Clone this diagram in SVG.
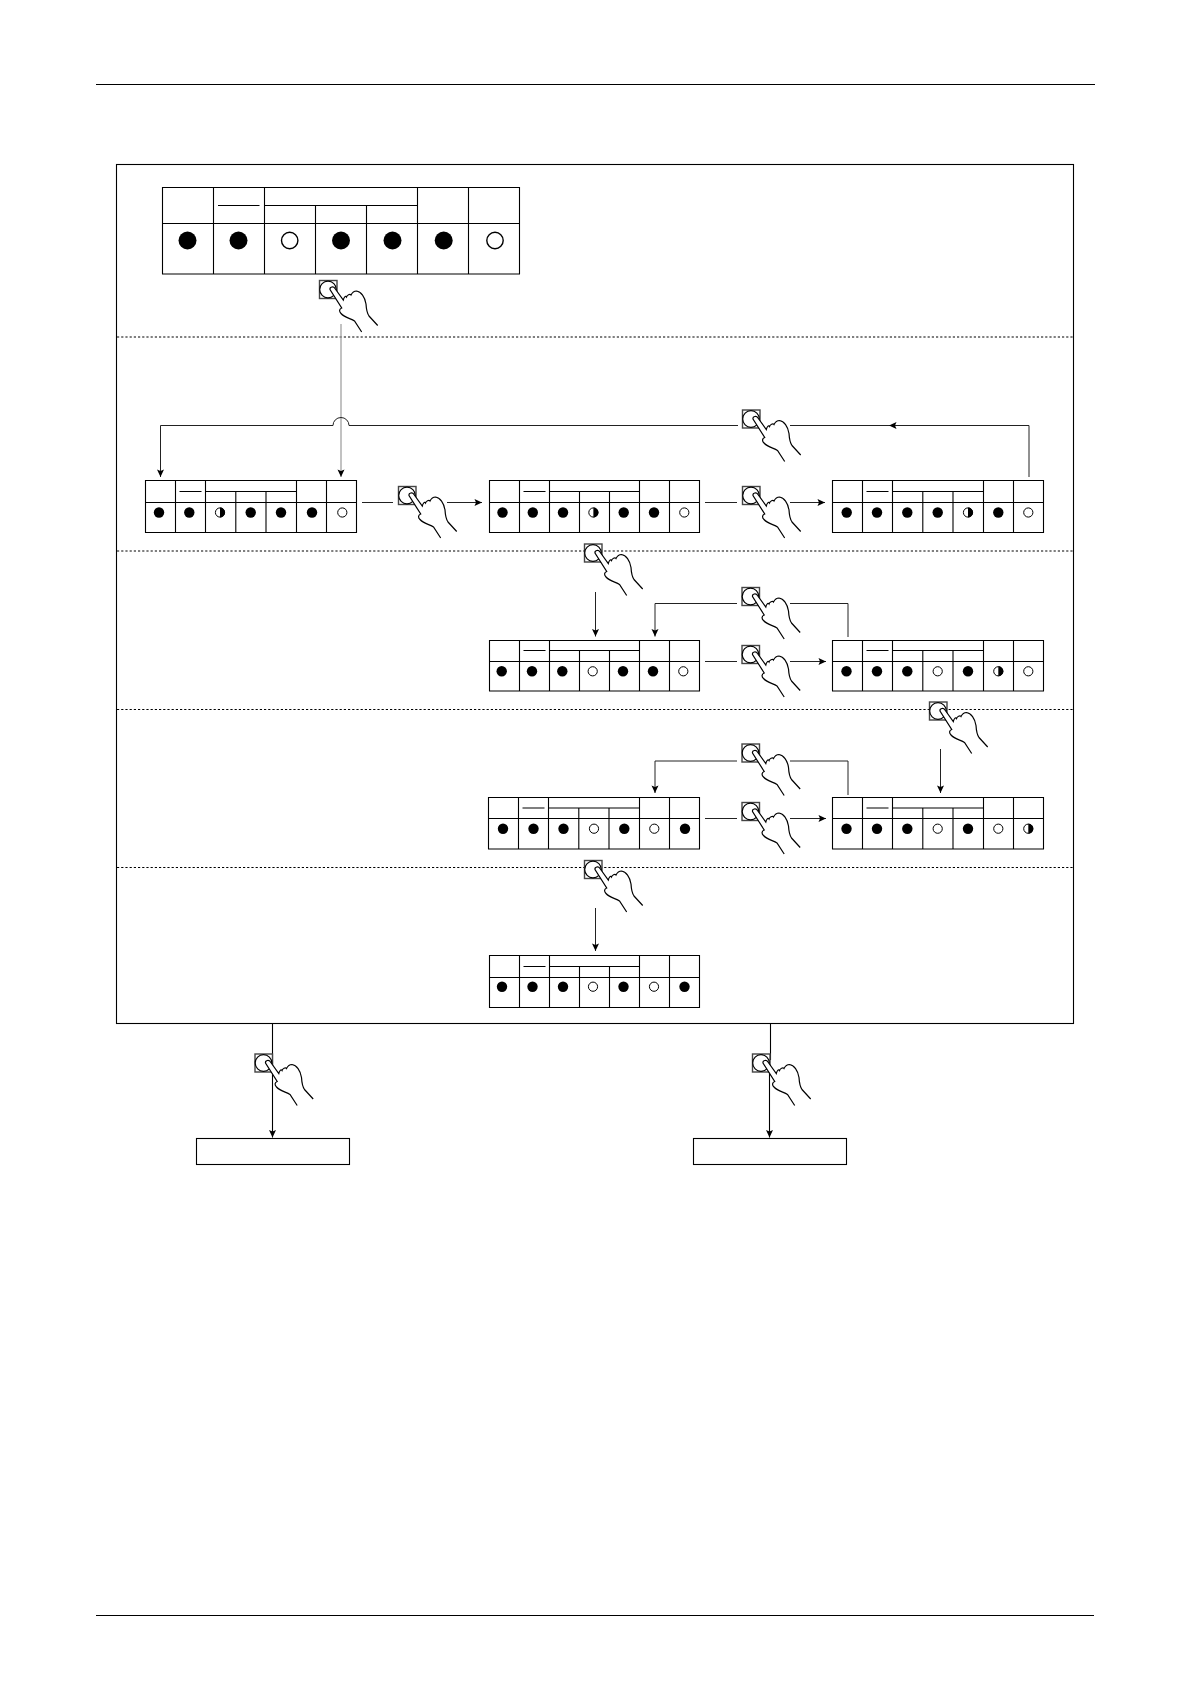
<svg xmlns="http://www.w3.org/2000/svg" width="1190" height="1684" viewBox="0 0 1190 1684">
<style>
.l{fill:none;stroke:#000;stroke-width:1.1}
.t{fill:#fff;stroke:#000;stroke-width:1.1}
.c{fill:none;stroke:#222;stroke-width:1}
.g{fill:none;stroke:#999;stroke-width:1.2}
.d{fill:none;stroke:#000;stroke-width:1;stroke-dasharray:2.2 2}
.on{fill:#000}
.off{fill:#fff;stroke:#000;stroke-width:1}
.offbig{fill:#fff;stroke:#000;stroke-width:1.4}
</style>
<defs>
<marker id="ah" markerUnits="userSpaceOnUse" markerWidth="10" markerHeight="10" refX="8" refY="4" orient="auto">
<path d="M0.5 0.5L8 4L0.5 7.5L2 4Z" fill="#000"/>
</marker>
<symbol id="hand" overflow="visible" width="60" height="54">
<rect x="0.5" y="0.5" width="17.500" height="18" fill="#fff" stroke="#444" stroke-width="1.4"/>
<circle cx="9" cy="9.500" r="8.300" fill="#fff" stroke="#000" stroke-width="1.2"/>
<path d="M58.700 45.500L50 36C47.500 32.500 47.300 29 47 24C46 17 42 11.500 37.500 11C35 11 33 13 32 15C31 13.500 28 15 27.500 17C26.500 15.500 25 17 24.300 20L16 8.500C14.500 5.800 10.500 6.800 11 9.500L22.700 28C20 29 20 31.500 22 33.500C26 38 32 38.500 35.500 41L42.700 52" fill="#fff" stroke="#000" stroke-width="1.2"/>
</symbol>
<symbol id="half" overflow="visible" width="10" height="10">
<circle cx="0" cy="0" r="4.600" fill="#fff" stroke="#000" stroke-width="1"/>
<path d="M0 -5A5 5 0 0 1 0 5Z" fill="#000"/>
</symbol>
<path id="grid52" class="t" d="M0 0H211V52H0ZM0 22H211M30 0V52M60 0V52M90.300 11V52M120.500 11V52M151 0V52M181 0V52M34 11H56M60 11H151"/>
<path id="grid52m" class="t" d="M0 0H210V52H0ZM0 22H210M30 0V52M60 0V52M90 11V52M120 11V52M150 0V52M180 0V52M34 11H56M60 11H150"/>
<path id="grid50m" class="t" d="M0 0H210V50.500H0ZM0 21H210M30 0V50.500M60 0V50.500M90 10V50.500M120 10V50.500M150 0V50.500M180 0V50.500M34 10H56M60 10H150"/>
<path id="grid50" class="t" d="M0 0H211V50.500H0ZM0 21H211M30 0V50.500M60 0V50.500M90.300 10V50.500M120.500 10V50.500M151 0V50.500M181 0V50.500M34 10H56M60 10H151"/>
<path id="grid51" class="t" d="M0 0H211V51.500H0ZM0 21H211M30 0V51.500M60 0V51.500M90.300 10.500V51.500M120.500 10.500V51.500M151 0V51.500M181 0V51.500M34 10.500H56M60 10.500H151"/>
<circle id="b" class="on" r="5.200"/>
<circle id="w" class="off" r="4.600"/>
</defs>

<path class="l" d="M96 84.500H1095M96 1615.500H1094"/>
<rect class="l" x="116.500" y="164.500" width="957" height="859"/>
<g id="dividers">
<path class="d" d="M117 337H1073M117 551H1073M117 709.500H1073M117 867.500H1073"/>
</g>

<g id="connectors">
<path class="g" d="M341 324V477" marker-end="url(#ah)"/>
<path class="c" d="M738 425.500H349A8 8 0 0 0 333 425.500H160.500V477" marker-end="url(#ah)"/>
<path class="c" d="M1029 477V425.500H790"/>
<path class="c" d="M900 425.500H889" marker-end="url(#ah)"/>
<path class="c" d="M362 502.500H393"/>
<path class="c" d="M447 502.500H482" marker-end="url(#ah)"/>
<path class="c" d="M705 502.500H737"/>
<path class="c" d="M790 502.500H825" marker-end="url(#ah)"/>
<path class="c" d="M595.500 592V636.500" marker-end="url(#ah)"/>
<path class="c" d="M737 603.500H655V636.500" marker-end="url(#ah)"/>
<path class="c" d="M790 603.500H848V637"/>
<path class="c" d="M705 661.500H737"/>
<path class="c" d="M790 661.500H826" marker-end="url(#ah)"/>
<path class="c" d="M940.500 749V793" marker-end="url(#ah)"/>
<path class="c" d="M737 761H655V793" marker-end="url(#ah)"/>
<path class="c" d="M790 761H848V795"/>
<path class="c" d="M705 818.500H737"/>
<path class="c" d="M790 818.500H826" marker-end="url(#ah)"/>
<path class="c" d="M595.500 908V951" marker-end="url(#ah)"/>
<path class="l" d="M272.500 1023.500V1137.500" marker-end="url(#ah)"/>
<path class="l" d="M770.500 1023.500V1060M769.500 1060V1137.500" marker-end="url(#ah)"/>
</g>

<g id="panel-top">
<path class="t" d="M162.500 187.500H519.500V274H162.500ZM162.500 223.500H519.500M213.500 187.500V274M264.500 187.500V274M315.500 205.500V274M366.500 205.500V274M417.500 187.500V274M468.500 187.500V274M218 205.500H259.500M264.500 205.500H417.500"/>
<circle class="on" cx="187.500" cy="240.500" r="9"/>
<circle class="on" cx="238.500" cy="240.500" r="9"/>
<circle class="offbig" cx="289.700" cy="240.500" r="8.200"/>
<circle class="on" cx="341" cy="240.500" r="9"/>
<circle class="on" cx="392.500" cy="240.500" r="9"/>
<circle class="on" cx="443.700" cy="240.500" r="9"/>
<circle class="offbig" cx="495" cy="240.500" r="8.200"/>
</g>

<g id="panel-2a">
<use href="#grid52" x="145.500" y="480.500"/>
<use href="#b" x="159" y="512.500"/><use href="#b" x="189.300" y="512.500"/><use href="#half" x="220" y="512.500"/><use href="#b" x="250.700" y="512.500"/><use href="#b" x="281" y="512.500"/><use href="#b" x="312" y="512.500"/><use href="#w" x="342.300" y="512.500"/>
</g>
<g id="panel-2b">
<use href="#grid52m" x="489.500" y="480.500"/>
<use href="#b" x="502.500" y="512.500"/><use href="#b" x="532.800" y="512.500"/><use href="#b" x="563" y="512.500"/><use href="#half" x="593.400" y="512.500"/><use href="#b" x="623.700" y="512.500"/><use href="#b" x="654" y="512.500"/><use href="#w" x="684.300" y="512.500"/>
</g>
<g id="panel-2c">
<use href="#grid52" x="832.500" y="480.500"/>
<use href="#b" x="846.700" y="512.500"/><use href="#b" x="877" y="512.500"/><use href="#b" x="907.300" y="512.500"/><use href="#b" x="937.700" y="512.500"/><use href="#half" x="968" y="512.500"/><use href="#b" x="998.300" y="512.500"/><use href="#w" x="1028.300" y="512.500"/>
</g>
<g id="panel-3a">
<use href="#grid50m" x="489.500" y="640.500"/>
<use href="#b" x="501.700" y="671.300"/><use href="#b" x="532" y="671.300"/><use href="#b" x="562.300" y="671.300"/><use href="#w" x="592.700" y="671.300"/><use href="#b" x="623" y="671.300"/><use href="#b" x="653" y="671.300"/><use href="#w" x="683.300" y="671.300"/>
</g>
<g id="panel-3b">
<use href="#grid50" x="832.500" y="640.500"/>
<use href="#b" x="846.500" y="671.300"/><use href="#b" x="877" y="671.300"/><use href="#b" x="907.300" y="671.300"/><use href="#w" x="937.700" y="671.300"/><use href="#b" x="968" y="671.300"/><use href="#half" x="998.300" y="671.300"/><use href="#w" x="1028.300" y="671.300"/>
</g>
<g id="panel-4a">
<use href="#grid51" x="488.500" y="797.500"/>
<use href="#b" x="503" y="828.700"/><use href="#b" x="533.500" y="828.700"/><use href="#b" x="563.500" y="828.700"/><use href="#w" x="594" y="828.700"/><use href="#b" x="624.300" y="828.700"/><use href="#w" x="654.300" y="828.700"/><use href="#b" x="685" y="828.700"/>
</g>
<g id="panel-4b">
<use href="#grid51" x="832.500" y="797.500"/>
<use href="#b" x="846.500" y="828.700"/><use href="#b" x="877" y="828.700"/><use href="#b" x="907.300" y="828.700"/><use href="#w" x="937.700" y="828.700"/><use href="#b" x="968" y="828.700"/><use href="#w" x="998.300" y="828.700"/><use href="#half" x="1028.300" y="828.700"/>
</g>
<g id="panel-5">
<use href="#grid52m" x="489.500" y="955.500"/>
<use href="#b" x="502" y="986.700"/><use href="#b" x="532.500" y="986.700"/><use href="#b" x="563" y="986.700"/><use href="#w" x="593" y="986.700"/><use href="#b" x="623.500" y="986.700"/><use href="#w" x="654" y="986.700"/><use href="#b" x="684.500" y="986.700"/>
</g>

<g id="box-left"><rect class="t" x="196.500" y="1138.500" width="153" height="26"/></g>
<g id="box-right"><rect class="t" x="693.500" y="1138.500" width="153" height="26"/></g>

<g id="hands">
<use href="#hand" x="319" y="280"/>
<use href="#hand" x="398" y="486"/>
<use href="#hand" x="742" y="486"/>
<use href="#hand" x="742" y="409.500"/>
<use href="#hand" x="584" y="543.500"/>
<use href="#hand" x="741.500" y="587"/>
<use href="#hand" x="741.500" y="645"/>
<use href="#hand" x="929" y="701.500"/>
<use href="#hand" x="741.500" y="743.500"/>
<use href="#hand" x="741.500" y="802"/>
<use href="#hand" x="584" y="860"/>
<use href="#hand" x="254.500" y="1053.500"/>
<use href="#hand" x="752" y="1053.500"/>
</g>
</svg>
